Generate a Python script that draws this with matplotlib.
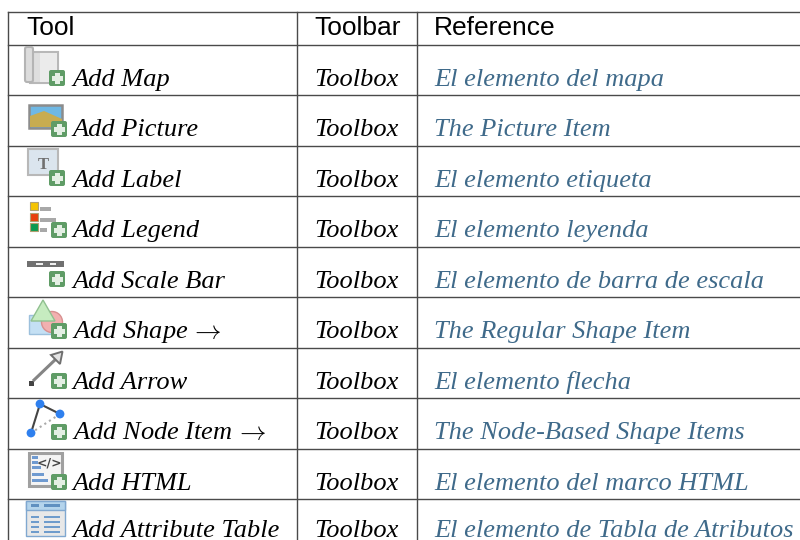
import matplotlib
matplotlib.use('Agg')
import matplotlib.pyplot as plt
from matplotlib.patches import Rectangle, Circle, Polygon, FancyBboxPatch

plt.rcParams['mathtext.fontset'] = 'cm'

# table content
headers = ['Tool', 'Toolbar', 'Reference']
tools = ['Add Map', 'Add Picture', 'Add Label', 'Add Legend', 'Add Scale Bar',
         'Add Shape $\\!\\rightarrow$', 'Add Arrow', 'Add Node Item $\\!\\rightarrow$', 'Add HTML', 'Add Attribute Table']
toolbars = ['Toolbox'] * 10
references = ['El elemento del mapa', 'The Picture Item', 'El elemento etiqueta',
              'El elemento leyenda', 'El elemento de barra de escala', 'The Regular Shape Item',
              'El elemento flecha', 'The Node-Based Shape Items', 'El elemento del marco HTML',
              'El elemento de Tabla de Atributos']

# layout in pixels
row_lines = [45, 95, 146, 196, 247, 297, 348, 398, 449, 499]
baselines = [86, 136, 187, 237, 288, 338, 389, 439, 490, 537]
col_lines = [8, 297, 417]
top_line = 12
col_text = [72, 314, 434]
head_text = [26, 314, 434]
link_color = '#3f6a8a'
line_color = '#4a4a4a'

fig = plt.figure(figsize=(8, 5.4), dpi=100)
ax = fig.add_axes([0, 0, 1, 1])
ax.set_xlim(0, 800)
ax.set_ylim(540, 0)
ax.axis('off')


def rect(x0, y0, x1, y1, fc, ec='none', lw=0.0, z=3):
    ax.add_patch(Rectangle((x0, y0), x1 - x0, y1 - y0, fc=fc, ec=ec, lw=lw, zorder=z))


def plus(x0, y0, size=16):
    # green badge with white cross
    ax.add_patch(FancyBboxPatch((x0 + 2, y0 + 2), size - 4, size - 4, boxstyle='round,pad=2',
                                fc='#5f9c66', ec='none', zorder=5))
    m = size / 2
    rect(x0 + 2.5, y0 + m - 2.5, x0 + size - 2.5, y0 + m + 2.5, '#e4efe4', z=6)
    rect(x0 + m - 2.5, y0 + 2.5, x0 + m + 2.5, y0 + size - 2.5, '#e4efe4', z=6)


def icon_map():
    rect(30, 52, 58, 83, '#dedede', '#b8b8b8', 1.5)
    rect(40, 53, 57, 82, '#ebebeb')
    ax.add_patch(FancyBboxPatch((27, 49), 4, 31, boxstyle='round,pad=2', fc='#dcdcdc', ec='#b4b4b4', lw=1.5, zorder=4))
    plus(49, 70)


def icon_picture():
    rect(29, 105, 62, 128, '#6fb8e4', '#8c8c8c', 1.8)
    ax.add_patch(Polygon([[30, 116], [44, 111], [62, 119], [62, 127], [30, 127]], fc='#c8ac50', ec='none', zorder=4))
    plus(51, 121)


def icon_label():
    rect(28, 149, 58, 175, '#dbe5ee', '#b8b8b8', 1.5)
    ax.text(43, 165, 'T', fontsize=12, family='Liberation Serif', fontweight='bold',
            color='#707070', ha='center', va='center', zorder=4)
    plus(49, 170)


def icon_legend():
    for y0, c, w in [(202, '#f5c400', 51), (213, '#e8400c', 56), (223, '#0c9a50', 47)]:
        rect(30, y0, 38, y0 + 8, c, '#b0a070', 0.8)
        rect(40, y0 + 5, w, y0 + 8.5, '#a8a8a8')
    plus(51, 222)


def icon_scale():
    rect(27, 261, 64, 267, '#707070')
    rect(36, 263, 43, 265, '#f0f0f0', z=4)
    rect(50, 263, 56, 265, '#f0f0f0', z=4)
    plus(49, 271)


def icon_shape():
    rect(29, 315, 55, 334, '#c4e0f4', '#9cc0dc', 1)
    ax.add_patch(Circle((52, 322), 10.5, fc='#f2b0b0', ec='#d89090', lw=1, zorder=4))
    ax.add_patch(Polygon([[43, 300], [31, 321], [55, 321]], fc='#c6ecc0', ec='#90c090', lw=1, zorder=5))
    plus(51, 323)


def icon_arrow():
    rect(28.5, 380.5, 33.5, 385.5, '#444444')
    ax.plot([34, 57], [380, 358], color='#858585', lw=2.2, zorder=3)
    ax.add_patch(Polygon([[62.5, 351.5], [51, 355], [60, 364]], fc='#e4e4e4', ec='#707070', lw=1.4, zorder=4))
    plus(51, 373)


def icon_node():
    ax.plot([40, 60], [404, 414], color='#444444', lw=1.5, zorder=3)
    ax.plot([40, 31], [404, 433], color='#444444', lw=1.5, zorder=3)
    ax.plot([60, 31], [414, 433], color='#aaaaaa', lw=1.5, ls=':', zorder=3)
    for cx, cy in [(40, 404), (60, 414), (31, 433)]:
        ax.add_patch(Circle((cx, cy), 4.4, fc='#2f80ee', ec='none', zorder=4))
    plus(51, 424)


def icon_html():
    rect(29, 453, 62, 486, '#f4f4f4', '#a0a0a0', 2.2)
    for y0, x1 in [(456, 38), (461, 38), (466, 41), (473, 44), (479, 48)]:
        rect(32, y0, x1, y0 + 3.2, '#6f9ad0', z=4)
    ax.text(49, 463, '</>', fontsize=9, fontweight='bold', color='#444444', ha='center', va='center', zorder=4)
    plus(51, 474)


def icon_table():
    rect(26, 501, 65, 536, '#e8e8e8', '#80a8d0', 1)
    rect(26, 501, 65, 510, '#b4d4ec', '#80a8d0', 1, z=4)
    rect(31, 504, 39, 507, '#6090c0', z=5)
    rect(44, 504, 60, 507, '#6090c0', z=5)
    for y0 in [516, 521, 526, 531]:
        rect(31, y0, 39, y0 + 1.5, '#6f9ccc', z=5)
        rect(44, y0, 60, y0 + 1.5, '#6f9ccc', z=5)


# grid
for y in [top_line] + row_lines:
    ax.plot([8, 800], [y, y], color=line_color, lw=1.0, zorder=2)
for x in col_lines:
    ax.plot([x, x], [top_line, 540], color=line_color, lw=1.0, zorder=2)

# header
for x, h in zip(head_text, headers):
    ax.text(x, 35, h, fontsize=19, family='Liberation Sans', color='black', va='baseline')

# rows
for tool, bar, ref, y in zip(tools, toolbars, references, baselines):
    ax.text(col_text[0], y, tool, fontsize=19, family='Liberation Serif', style='italic', va='baseline')
    ax.text(col_text[1], y, bar, fontsize=19, family='Liberation Serif', style='italic', va='baseline')
    ax.text(col_text[2], y, ref, fontsize=19, family='Liberation Serif', style='italic', color=link_color, va='baseline')

for draw in [icon_map, icon_picture, icon_label, icon_legend, icon_scale,
             icon_shape, icon_arrow, icon_node, icon_html, icon_table]:
    draw()

fig.savefig('out.png', dpi=100, facecolor='white')
